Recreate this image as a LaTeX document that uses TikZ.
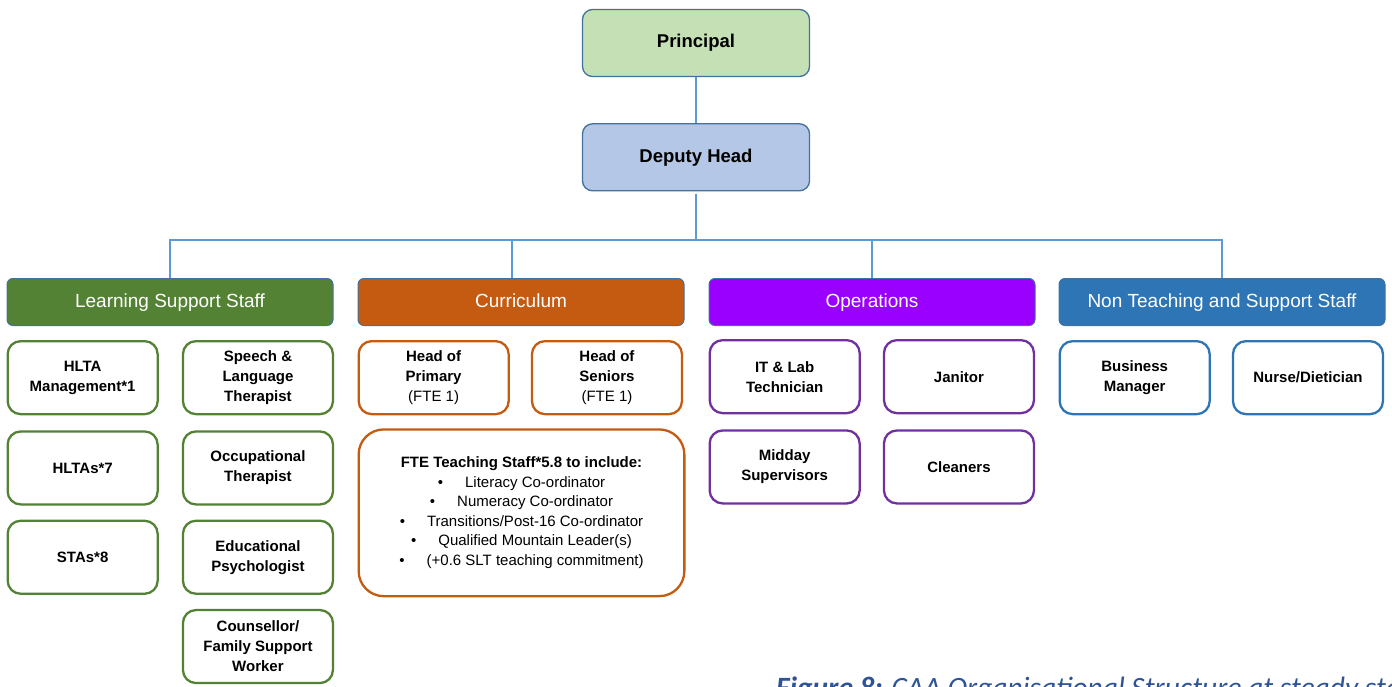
\documentclass[tikz,border=0pt]{standalone}
\usepackage{fontspec}
\setmainfont{Liberation Sans}
\newfontfamily\capfont{Carlito}
\usepackage{tikz}
\usetikzlibrary{positioning}
\definecolor{lineblue}{HTML}{5B9BD5}
\definecolor{edgeblue}{HTML}{41719C}
\definecolor{prinfill}{HTML}{C5E0B4}
\definecolor{depfill}{HTML}{B4C7E7}
\definecolor{lssgreen}{HTML}{548235}
\definecolor{curorange}{HTML}{C55A11}
\definecolor{opsviolet}{HTML}{9900FF}
\definecolor{opspurple}{HTML}{7030A0}
\definecolor{ntsblue}{HTML}{2E75B6}
\definecolor{capblue}{HTML}{2F5496}

\begin{document}
\begin{tikzpicture}[
  x=1pt, y=-1pt,
  lead/.style={draw=edgeblue, line width=1.3pt, rounded corners=10pt, minimum width=227pt, minimum height=67pt, font=\fontsize{18.5}{22}\selectfont\bfseries},
  grp/.style={draw=edgeblue, line width=1pt, rounded corners=6pt, minimum width=326pt, minimum height=47pt, text=white, text depth=0.2em, font=\fontsize{19}{22}\selectfont},
  role/.style={draw=#1, fill=white, line width=2.3pt, rounded corners=13pt, minimum width=150pt, minimum height=73pt, inner sep=2pt, align=center, font=\fontsize{15}{20}\selectfont\bfseries},
  link/.style={lineblue, line width=1.8pt}
]
  \useasboundingbox (0,0) rectangle (1392,687);

  % senior leadership
  \node[lead, fill=prinfill] (prin) at (696,43) {Principal};
  \node[lead, fill=depfill, below=46pt of prin] (dep) {Deputy Head};

  % staff groups
  \node[grp, fill=lssgreen] (lss) at (170,302) {Learning Support Staff};
  \node[grp, fill=curorange] (cur) at (521,302) {Curriculum};
  \node[grp, fill=opsviolet] (ops) at (872,302) {Operations};
  \node[grp, fill=ntsblue] (nts) at (1222,302) {Non Teaching and Support Staff};

  % learning support staff
  \node[role=lssgreen, below right=14pt and 0pt of lss.south west] (hm) {HLTA\\Management*1};
  \node[role=lssgreen, right=23pt of hm] (sl) {Speech \&\\Language\\Therapist};
  \node[role=lssgreen, below=15pt of hm] (hl) {HLTAs*7};
  \node[role=lssgreen, below=15pt of sl] (ot) {Occupational\\Therapist};
  \node[role=lssgreen, below=14pt of hl] (sta) {STAs*8};
  \node[role=lssgreen, below=14pt of ot] (ep) {Educational\\Psychologist};
  \node[role=lssgreen, below=14pt of ep] (cfs) {Counsellor/\\Family Support\\Worker};

  % curriculum
  \node[role=curorange, below right=14pt and 0pt of cur.south west] (hp) {Head of\\Primary\\\mdseries(FTE 1)};
  \node[role=curorange, right=21pt of hp] (hs) {Head of\\Seniors\\\mdseries(FTE 1)};
  \node[role=curorange, below right=13pt and 0pt of hp.south west, minimum width=325.7pt, minimum height=166.7pt, rounded corners=25pt, font=\fontsize{15}{19.5}\selectfont] (fte) {%
    \textbf{FTE Teaching Staff*5.8 to include:}\\
    \textbullet\hspace{22pt}Literacy Co-ordinator\\
    \textbullet\hspace{22pt}Numeracy Co-ordinator\\
    \textbullet\hspace{22pt}Transitions/Post-16 Co-ordinator\\
    \textbullet\hspace{22pt}Qualified Mountain Leader(s)\\
    \textbullet\hspace{22pt}(+0.6 SLT teaching commitment)};

  % operations
  \node[role=opspurple, below right=13pt and 0pt of ops.south west] (it) {IT \& Lab\\Technician};
  \node[role=opspurple, right=22pt of it] (jan) {Janitor};
  \node[role=opspurple, below=15pt of it] (mid) {Midday\\Supervisors};
  \node[role=opspurple, right=22pt of mid] (cln) {Cleaners};

  % non teaching and support staff
  \node[role=ntsblue, below right=14pt and 0pt of nts.south west] (bm) {Business\\Manager};
  \node[role=ntsblue, right=21pt of bm] (nd) {Nurse/Dietician};

  % connectors
  \coordinate (bus) at (696,240);
  \coordinate (curtop) at ([xshift=-9pt]cur.north);
  \draw[link] (prin) -- (dep);
  \draw[link, shorten <=3pt] (dep) -- (bus);
  \draw[link] (lss.north) |- (bus) -| (nts.north);
  \draw[link] (curtop) -- (curtop |- bus);
  \draw[link] (ops.north) -- (ops.north |- bus);

  \node[anchor=base west, inner sep=0pt, text=capblue, font=\capfont\fontsize{29.5}{32}\selectfont\itshape] (cap) at (776,697) {\textbf{Figure 8:} CAA Organisational Structure at steady state};
\end{tikzpicture}
\end{document}
